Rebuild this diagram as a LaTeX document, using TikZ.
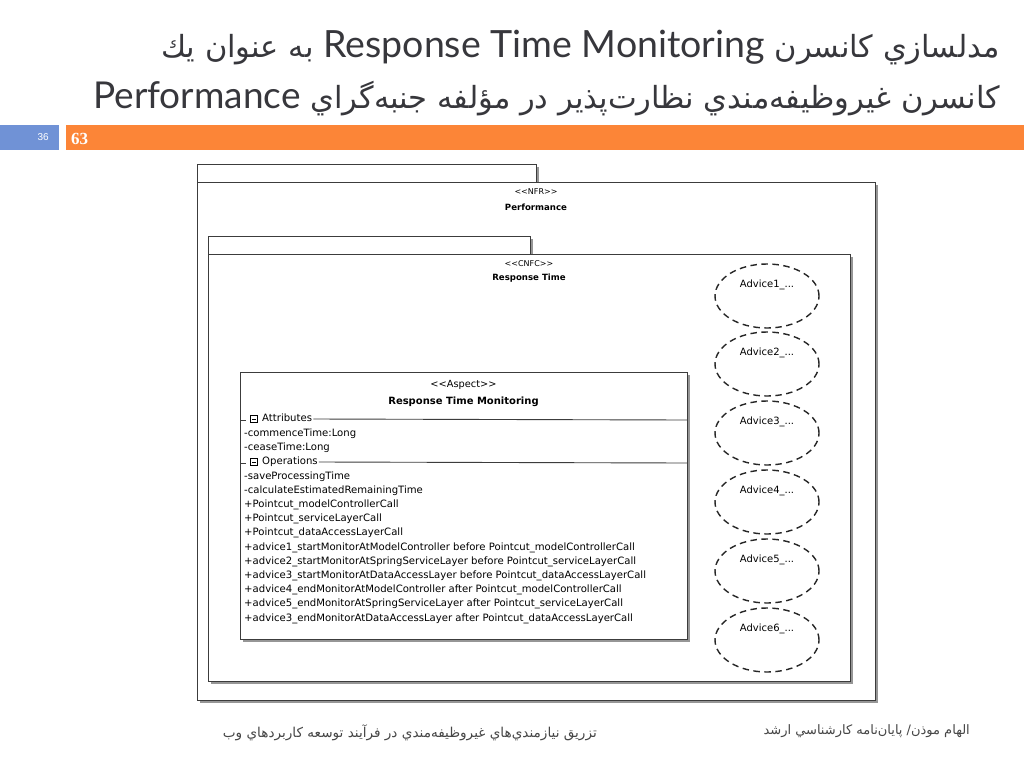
\documentclass[tikz,border=0pt]{standalone}
\usepackage{fontspec}
\usepackage{graphicx}
\usetikzlibrary{shapes.geometric}
\setmainfont{Liberation Sans}
\newfontfamily\arabicfont[Script=Arabic]{DejaVu Sans}
\newfontfamily\latinT{Lato}
\newfontfamily\umlf{DejaVu Sans}
\newfontfamily\serifb{Liberation Serif}
\TeXXeTstate=1
\definecolor{orangebar}{RGB}{252,133,55}
\definecolor{bluebar}{RGB}{112,146,214}
\definecolor{titlec}{RGB}{55,55,60}
\definecolor{footc}{RGB}{70,70,70}
\definecolor{boxline}{RGB}{60,60,60}
\definecolor{shadowc}{RGB}{150,150,150}
\newcommand{\stl}{<\kern0pt<}
\newcommand{\str}{>\kern0pt>}
\tikzset{
  shadowfill/.style={fill=shadowc, draw=none},
  umlbox/.style={draw=boxline, fill=white, line width=0.9pt},
  umltext/.style={font=\umlf\fontsize{10.1}{12}\selectfont, inner sep=0pt, text height=7.5pt, text depth=2.2pt, anchor=west},
  stereo/.style={font=\umlf\fontsize{8}{10}\selectfont, inner sep=0pt},
  bname/.style={font=\umlf\fontsize{8.6}{11}\selectfont\bfseries, inner sep=0pt},
  advell/.style={ellipse, draw=black!85, line width=1.4pt, dash pattern=on 6.5pt off 4.5pt, minimum width=104pt, minimum height=64pt, inner sep=0pt},
  advtext/.style={font=\umlf\fontsize{10}{11}\selectfont, inner sep=0pt},
  bminus/.pic={\draw[line width=0.5pt, fill=white] (-3.5,-3.5) rectangle (3.5,3.5); \draw[line width=0.5pt] (-2,0) -- (2,0);}
}
\begin{document}
\begin{tikzpicture}[x=1pt,y=-1pt]
\useasboundingbox[fill=white] (0,0) rectangle (1024,768);
% header bars
\fill[bluebar] (0,125) rectangle (59,150);
\fill[orangebar] (66,125) rectangle (1024,150);
\node[anchor=east, text=white, font=\fontsize{10}{11}\selectfont, inner sep=0pt] (pg) at (49,137.5) {36};
\node[anchor=west, text=white, font=\serifb\fontsize{17}{18}\selectfont\bfseries, inner sep=0pt] (num) at (71,138.5) {63};
% title
\node[anchor=east, text=titlec, font=\fontsize{30.5}{34}\selectfont, inner sep=0pt] (t1) at (1000,48)
  {\arabicfont\beginR مدلسازي كانسرن \beginL{\latinT\fontsize{37.5}{40}\selectfont Response Time Monitoring}\endL{} به عنوان يك\endR};
\node[anchor=east, text=titlec, font=\fontsize{30.5}{34}\selectfont, inner sep=0pt] (t2) at (1000,99)
  {\arabicfont\beginR كانسرن غيروظيفه‌مندي نظارت‌پذير در مؤلفه جنبه‌گراي \beginL{\latinT\fontsize{37}{40}\selectfont Performance}\endL{}\endR};
% outer package
\fill[shadowfill] (200,167) rectangle (539,185);
\fill[shadowfill] (200,185) rectangle (878,703);
\draw[umlbox] (197,164) rectangle (536,182);
\draw[umlbox] (197,182) rectangle (875,700);
\node[stereo] (nfr) at (536,192) {\stl NFR\str};
\node[bname] (perf) at (536,207) {Performance};
% inner package
\fill[shadowfill] (211,239) rectangle (533,257);
\fill[shadowfill] (211,257) rectangle (853,684);
\draw[umlbox] (208,236) rectangle (530,254);
\draw[umlbox] (208,254) rectangle (850,681);
\node[stereo] (cnfc) at (529,264) {\stl CNFC\str};
\node[bname] (rt) at (529,278) {Response Time};
% aspect
\fill[shadowfill] (243,375) rectangle (690,642);
\draw[umlbox] (240,372) rectangle (687,639);
\node[stereo, font=\umlf\fontsize{9.8}{11}\selectfont] (st) at (463.5,385) {\stl Aspect\str};
\node[bname, font=\umlf\fontsize{10}{12}\selectfont\bfseries] (an) at (463.5,402) {Response Time Monitoring};
% attributes compartment
\draw[boxline, line width=0.9pt] (240,420) -- (246,420);
\pic at (254,419) {bminus};
\node[umltext] (attr) at (262,419) {Attributes};
\draw[boxline, line width=0.9pt] (attr.east) ++(1,0) -- (687,420);
\node[umltext] (a1) at (244,433.5) {-commenceTime:Long};
\node[umltext] (a2) at (244,448) {-ceaseTime:Long};
% operations compartment
\draw[boxline, line width=0.9pt] (240,463) -- (246,463);
\pic at (254,462) {bminus};
\node[umltext] (ops) at (262,462) {Operations};
\draw[boxline, line width=0.9pt] (ops.east) ++(1,0) -- (687,463);
\foreach \t [count=\i from 0] in {
 -saveProcessingTime,
 -calculateEstimatedRemainingTime,
 +Pointcut\_modelControllerCall,
 +Pointcut\_serviceLayerCall,
 +Pointcut\_dataAccessLayerCall,
 +advice1\_startMonitorAtModelController before Pointcut\_modelControllerCall,
 +advice2\_startMonitorAtSpringServiceLayer before Pointcut\_serviceLayerCall,
 +advice3\_startMonitorAtDataAccessLayer before Pointcut\_dataAccessLayerCall,
 +advice4\_endMonitorAtModelController after Pointcut\_modelControllerCall,
 +advice5\_endMonitorAtSpringServiceLayer after Pointcut\_serviceLayerCall,
 +advice3\_endMonitorAtDataAccessLayer after Pointcut\_dataAccessLayerCall}
 { \node[umltext] (op\i) at (244,{476.5+14.2*\i}) {\t}; }
% advices
\foreach \k/\yy in {1/296,2/364,3/433,4/502,5/571,6/640} {
  \node[advell] (adv\k) at (767,\yy) {};
  \node[advtext] (advt\k) at ([yshift=11pt]adv\k.center) {Advice\k\_...};
}
% footer
\node[anchor=east, text=footc, font=\fontsize{13}{15}\selectfont, inner sep=0pt] (f1) at (970,731)
  {\arabicfont\beginR الهام موذن/ پايان‌نامه كارشناسي ارشد\endR};
\node[anchor=east, text=footc, font=\fontsize{13.6}{15}\selectfont, inner sep=0pt] (f2) at (597,733)
  {\arabicfont\beginR تزريق نيازمندي‌هاي غيروظيفه‌مندي در فرآيند توسعه كاربردهاي وب\endR};
\end{tikzpicture}
\end{document}
